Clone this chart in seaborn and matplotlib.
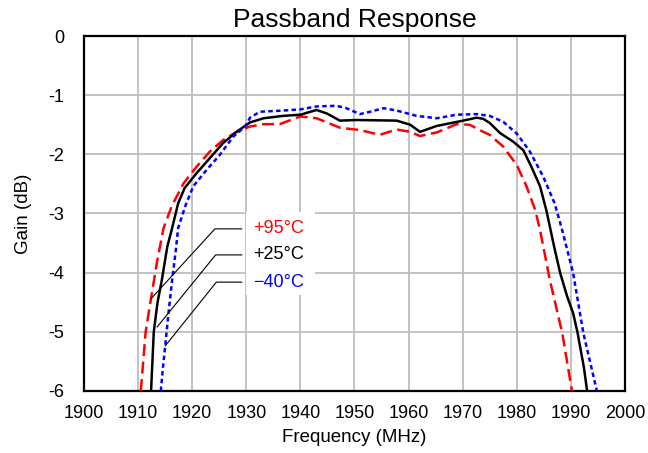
import matplotlib
matplotlib.use("Agg")
import matplotlib.pyplot as plt
import seaborn as sns
import pandas as pd
from matplotlib.patches import Rectangle

# +95°C
freq_hot = [1910.5, 1911.4, 1912.4, 1913.5, 1914.7, 1916.2, 1918.4, 1920.8, 1923.3, 1925.7,
            1928.2, 1930.7, 1933.2, 1936.2, 1938.2, 1940.0, 1943.0, 1947.3, 1951.0, 1954.7,
            1957.8, 1960.3, 1962.1, 1965.2, 1968.9, 1971.3, 1973.8, 1975.0, 1977.5, 1980.0,
            1981.8, 1983.4, 1984.3, 1986.1, 1988.4, 1990.2]
gain_hot = [-6.0, -5.0, -4.43, -3.82, -3.25, -2.88, -2.49, -2.21, -1.95, -1.76,
            -1.62, -1.53, -1.49, -1.49, -1.42, -1.36, -1.39, -1.55, -1.59, -1.67,
            -1.58, -1.62, -1.69, -1.63, -1.49, -1.50, -1.62, -1.67, -1.87, -2.18,
            -2.54, -2.94, -3.28, -4.12, -5.02, -6.0]

# +25°C
freq_room = [1912.4, 1912.9, 1913.6, 1914.4, 1915.4, 1916.2, 1917.4, 1918.6, 1920.8, 1923.3,
             1925.7, 1928.2, 1930.7, 1933.2, 1936.8, 1940.0, 1943.0, 1944.9, 1947.3, 1950.4,
             1957.8, 1960.3, 1962.1, 1965.2, 1970.1, 1972.6, 1973.8, 1975.0, 1976.9, 1979.4,
             1981.2, 1982.7, 1984.3, 1985.5, 1986.9, 1988.0, 1989.3, 1990.4, 1991.2, 1991.7,
             1992.4, 1993.0]
gain_room = [-6.0, -5.0, -4.5, -4.12, -3.56, -3.28, -2.83, -2.57, -2.32, -2.06,
             -1.81, -1.62, -1.46, -1.39, -1.35, -1.33, -1.25, -1.31, -1.43, -1.42,
             -1.43, -1.50, -1.62, -1.52, -1.43, -1.38, -1.40, -1.47, -1.64, -1.79,
             -1.93, -2.21, -2.54, -2.96, -3.56, -4.0, -4.4, -4.68, -5.0, -5.25,
             -5.6, -6.0]

# -40°C
freq_cold = [1914.2, 1914.6, 1915.0, 1915.6, 1916.3, 1917.0, 1917.4, 1918.7, 1920.2, 1922.7,
             1925.1, 1927.6, 1929.8, 1930.7, 1932.5, 1936.8, 1940.0, 1943.0, 1946.7, 1948.5,
             1951.0, 1952.9, 1955.4, 1957.8, 1961.5, 1965.2, 1968.9, 1972.6, 1975.0, 1977.5,
             1980.0, 1982.4, 1984.9, 1987.0, 1988.3, 1990.4, 1992.3, 1994.8]
gain_cold = [-6.0, -5.6, -5.25, -4.7, -4.12, -3.6, -3.25, -2.88, -2.54, -2.26,
             -2.01, -1.70, -1.53, -1.38, -1.28, -1.26, -1.24, -1.19, -1.18, -1.22,
             -1.32, -1.28, -1.22, -1.26, -1.35, -1.39, -1.33, -1.32, -1.35, -1.45,
             -1.65, -1.95, -2.38, -2.83, -3.25, -4.0, -5.02, -6.0]

labels = ["+95°C", "+25°C", "\u221240°C"]
label_colors = ["#ff0000", "#000000", "#0000ff"]
# where each leader line touches its curve, and the text rows
leader_tips = [(1912.4, -4.44), (1913.5, -4.92), (1915.0, -5.24)]
label_rows = [-3.26, -3.70, -4.16]

sns.set_style("white")
plt.rcParams["font.family"] = ["Liberation Sans", "DejaVu Sans"]
plt.rcParams["axes.unicode_minus"] = False
plt.rcParams["text.color"] = "black"
plt.rcParams["axes.labelcolor"] = "black"

fig = plt.figure(figsize=(6.48, 4.53), dpi=100)
ax = fig.add_axes([0.1296, 0.1369, 0.9645 - 0.1296, 0.9205 - 0.1369])

hot = pd.DataFrame({"f": freq_hot, "g": gain_hot})
room = pd.DataFrame({"f": freq_room, "g": gain_room})
cold = pd.DataFrame({"f": freq_cold, "g": gain_cold})

sns.lineplot(data=hot, x="f", y="g", sort=False, estimator=None, ax=ax,
             color="#ff0000", lw=1.8, zorder=3)
ax.lines[-1].set_dashes([4.8, 2.2])
sns.lineplot(data=room, x="f", y="g", sort=False, estimator=None, ax=ax,
             color="#000000", lw=1.8, zorder=3)
sns.lineplot(data=cold, x="f", y="g", sort=False, estimator=None, ax=ax,
             color="#0000ff", lw=1.8, zorder=3)
ax.lines[-1].set_dashes([1.8, 1.3])

ax.set_xlim(1900, 2000)
ax.set_ylim(-6, 0)
ax.set_xticks(range(1900, 2001, 10))
ax.set_yticks(range(-6, 1))
ax.grid(True, color="#bdbdbd", lw=1.3)
ax.set_axisbelow(True)
for s in ax.spines.values():
    s.set_color("black")
    s.set_linewidth(1.6)
ax.tick_params(length=0, labelsize=13, pad=10, colors="black")
ax.tick_params(axis="y", pad=14)

ax.set_xlabel("Frequency (MHz)", fontsize=13.5, labelpad=5)
ax.set_ylabel("Gain (dB)", fontsize=13.5, labelpad=12)
fig.text(0.547, 0.955, "Passband Response", ha="center", va="center", fontsize=19)

# label box and leader lines
ax.add_patch(Rectangle((1929.9, -4.37), 12.8, 1.40, facecolor="white", edgecolor="none", zorder=1))
for (tx, ty), row, lab, c in zip(leader_tips, label_rows, labels, label_colors):
    corner_x = 1924.2 + (row - label_rows[0]) * -0.3
    ax.plot([tx, corner_x, 1929.2], [ty, row, row], color="black", lw=0.8, zorder=4)
    ax.text(1931.2, row, lab, color=c, fontsize=13, ha="left", va="center", zorder=5)

fig.savefig("out.png", dpi=100)
